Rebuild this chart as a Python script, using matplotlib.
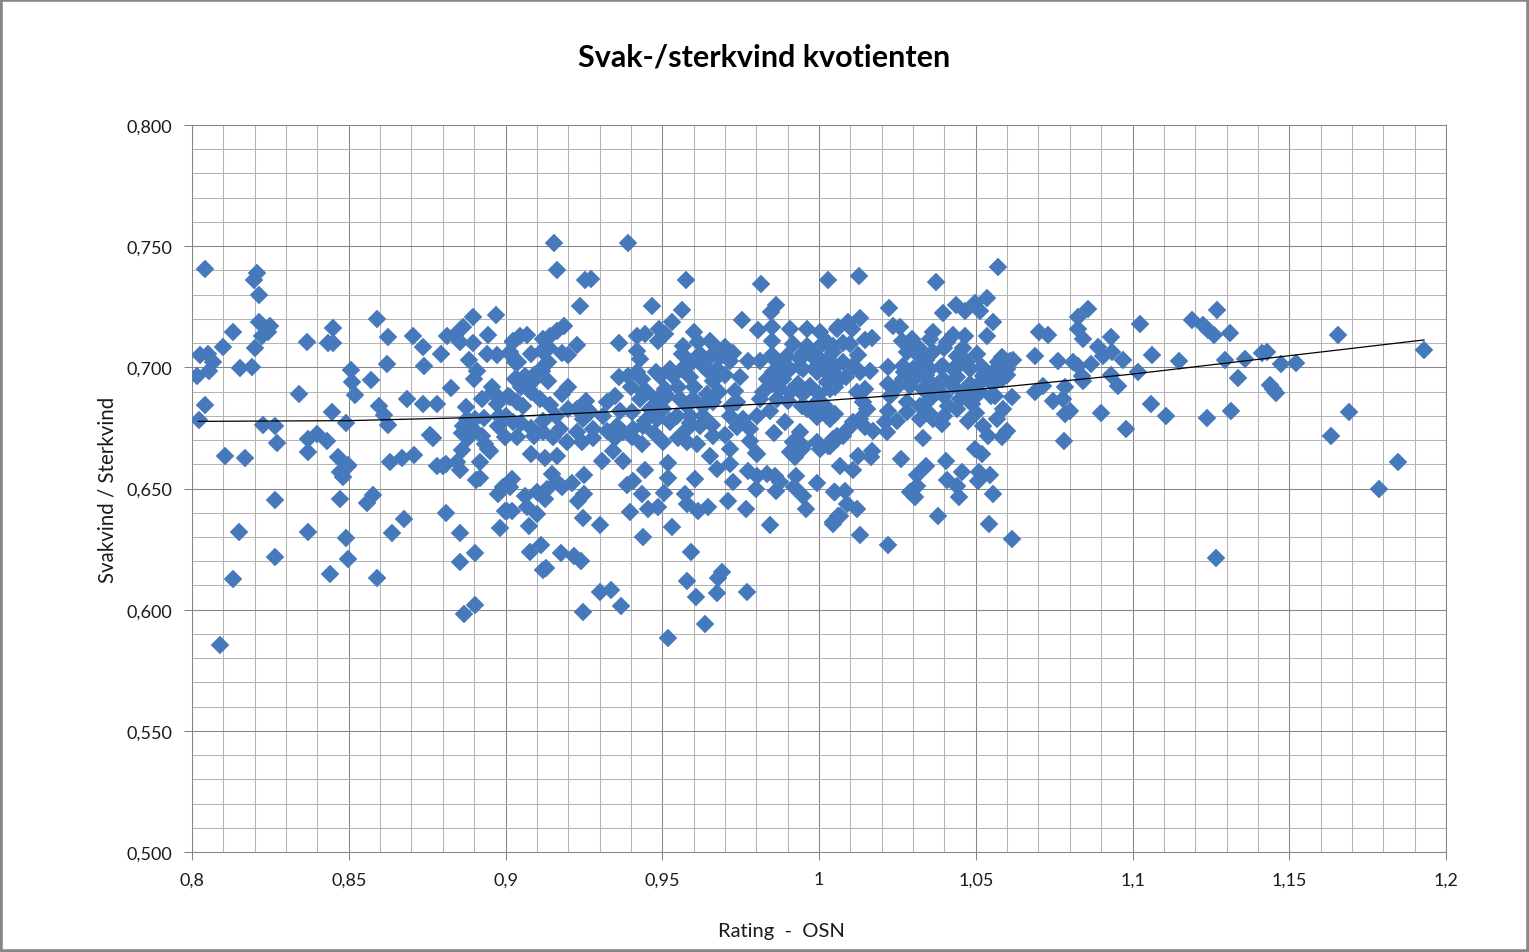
import matplotlib
matplotlib.use("Agg")
import matplotlib.pyplot as plt
from matplotlib.ticker import FixedLocator, FuncFormatter
from matplotlib.patches import Rectangle
import numpy as np

plt.rcParams['font.family'] = ['Lato', 'DejaVu Sans']

title = "Svak-/sterkvind kvotienten"
x_label = "Rating  -  OSN"
y_label = "Svakvind / Sterkvind"
x_ticks = [0.8, 0.85, 0.9, 0.95, 1.0, 1.05, 1.1, 1.15, 1.2]
y_ticks = [0.5, 0.55, 0.6, 0.65, 0.7, 0.75, 0.8]

# (rating, ratio), one list per part of the cloud
left_upper = [(.804,.7406),(.8207,.739),(.8198,.736),(.8214,.730),(.859,.720),(.8896,.7208),(.897,.7216),
    (.8214,.7187),(.825,.717),(.8243,.7146),(.813,.7146),(.845,.7162),(.8223,.713),(.8367,.7105),(.8434,.710),
    (.845,.710),(.8625,.7125),(.8705,.713),(.8737,.7084),(.81,.7084),(.82,.708),(.8026,.705),(.805,.7055),
    (.8067,.702),(.8054,.6985),(.8016,.6965),(.8153,.6997),(.819,.7001),(.8507,.699),(.851,.694),(.852,.6886),
    (.857,.6948),(.8622,.7013),(.874,.7005),(.8794,.7055),(.8826,.6915),(.834,.689),(.804,.6845),(.8597,.684),
    (.8612,.6803),(.8625,.6762),(.8686,.6868),(.8737,.6849),(.8782,.6849),(.8447,.6816),(.849,.677),(.8022,.6783),
    (.8226,.6762),(.8265,.6758),(.8271,.6688),(.837,.6704),(.840,.6725),(.843,.6696),(.8769,.6708),(.886,.673),
    (.8896,.6745),(.8925,.6717),(.8935,.6684),(.8813,.713),(.8839,.7133),(.8864,.7166),(.8855,.7105),(.8896,.71),
    (.8944,.7133),(.8884,.703),(.894,.7055),(.8973,.7051),(.9014,.7055),(.8909,.6985),(.89,.695),(.9024,.7105),
    (.903,.702),(.903,.695),(.8957,.692),(.8925,.687),(.896,.69),(.8982,.687),(.9008,.688),(.8973,.685),
    (.9037,.6857),(.8874,.6836),(.8877,.6787),(.8903,.6787),(.8864,.6758),(.8976,.6758),(.8998,.6713),
    (.9024,.6774),(.9037,.6713)]

left_lower = [(.837,.665),(.8466,.663),(.8498,.6597),(.8105,.6634),(.817,.6626),(.8632,.661),(.867,.6626),(.8708,.6638),
    (.8944,.6663),(.8498,.6593),(.8472,.6568),(.8482,.6547),(.8782,.6593),(.8801,.6593),(.8845,.661),(.8855,.6576),
    (.8906,.6535),(.8919,.6543),(.895,.6655),(.8265,.6452),(.8472,.6457),(.8577,.6473),(.8558,.644),(.8976,.6477),
    (.902,.6539),(.8992,.6506),(.9014,.6506),(.881,.6399),(.8998,.6407),(.902,.6407),(.8676,.6374),(.815,.632),
    (.837,.632),(.8491,.6296),(.8638,.6316),(.8855,.6316),(.8982,.6337),(.8265,.6217),(.8498,.6209),(.8903,.6234),
    (.8855,.6197),(.813,.6127),(.844,.6147),(.859,.6131),(.8903,.6019),(.8868,.5982),(.8089,.5854)]

centre_lower = [(.9081,.6642),(.9126,.6626),(.9164,.6634),(.9308,.6613),(.9343,.6655),(.9375,.6613),(.9148,.656),(.925,.6556),
    (.9164,.6527),(.9212,.6523),(.918,.6506),(.9132,.6498),(.91,.6485),(.9062,.6469),(.9126,.6457),(.925,.6477),
    (.9231,.6448),(.9069,.6424),(.9005,.6407),(.91,.6395),(.9075,.6345),(.9247,.6378),(.9302,.635),(.9113,.6267),
    (.9078,.6238),(.9177,.6234),(.9219,.6222),(.9241,.6201),(.912,.6164),(.9128,.6172),(.9302,.6073),(.9337,.6081),
    (.9368,.6015),(.9247,.599),(.9518,.5883),(.9636,.5941),(.969,.6155),(.9678,.613),(.9675,.6069),(.977,.6073),
    (.958,.6118),(.9608,.6052),(.9592,.6238),(.9439,.63),(.9531,.6341),(.9844,.635),(.9397,.6403),(.9455,.6415),
    (.9486,.6424),(.9614,.6407),(.9646,.6424),(.9579,.6436),(.9573,.6477),(.971,.6448),(.9767,.6415),(.9959,.6415),
    (1.0045,.6362),(1.006,.6387),(.9799,.6498),(.9863,.649),(.992,.6506),(.9949,.647),(.9994,.6523),(1.0048,.6486),
    (.9388,.6514),(.9407,.6531),(.9435,.6477),(.9506,.6481),(.9518,.6543),(.9604,.6539),(.9518,.6605),(.9445,.6576),
    (.9726,.6527),(.9774,.6572),(.9802,.6552),(.9834,.656),(.986,.6552),(.9876,.6527),(.9927,.6552),(.9675,.658),
    (.9652,.6634),(.9716,.6663),(.9716,.6601),(.9799,.6647),(.9923,.663),(.9946,.6663),(1.0003,.6663)]

right_lower = [(1.0067,.6593),(1.0108,.6576),(1.0124,.6634),(1.0166,.663),(1.0169,.6655),(1.0262,.6622),(1.0405,.6613),
    (1.0341,.6593),(1.0313,.6556),(1.0313,.651),(1.029,.6486),(1.0306,.6465),(1.0408,.6535),(1.044,.651),(1.0447,.6465),
    (1.0456,.6568),(1.051,.6568),(1.0545,.6556),(1.0507,.6531),(1.0555,.6477),(1.0498,.6663),(1.052,.6642),(1.0379,.6387),
    (1.0542,.6353),(1.0616,.6292),(1.022,.6267),(1.0131,.6309),(1.0121,.6415),(1.0089,.6436),(1.0083,.649),(1.0051,.6486),
    (1.0067,.6387),(1.0045,.6353),(1.1266,.6213)]

right_upper = [(1.0571,.7414),(1.0029,.736),(1.0128,.7377),(1.0373,.7352),(1.0223,.7245),(1.0396,.7224),(1.0437,.7257),
    (1.0466,.7232),(1.0498,.7265),(1.0536,.7286),(1.0514,.7232),(1.0555,.7187),(1.0536,.7129),(1.0131,.7204),(1.0092,.7187),
    (1.0061,.7166),(1.0105,.7158),(1.0147,.7113),(1.0169,.7121),(1.0099,.7096),(1.0236,.717),(1.0258,.7166),(1.0265,.7109),
    (1.0297,.7117),(1.0364,.7146),(1.0354,.7117),(1.0427,.7133),(1.0466,.7129),(1.0408,.7105),(1.0858,.7241),(1.0826,.7208),
    (1.0826,.7158),(1.0842,.7117),(1.0931,.7125),(1.1024,.7179),(1.0702,.7146),(1.073,.7133),(1.089,.7084),(1.0689,.7047),
    (1.1062,.7051),(1.0935,.7063),(1.0906,.7047),(1.097,.703),(1.0762,.7026),(1.081,.7022),(1.0826,.7005),(1.0868,.7014),
    (1.0839,.6964),(1.0931,.6968),(1.0842,.6944),(1.1018,.698),(1.0954,.6923),(1.0715,.6923),(1.0689,.6898),(1.0785,.6919),
    (1.0746,.6861),(1.0778,.6869),(1.0801,.682),(1.0785,.6807),(1.09,.6811),(1.1059,.6849),(1.098,.6746),(1.0781,.6696)]

far_right = [(1.1107,.6799),(1.1148,.7026),(1.1189,.7195),(1.1225,.7175),(1.1241,.7155),(1.126,.7133),(1.127,.7237),(1.1238,.6791),
    (1.1314,.682),(1.1311,.7142),(1.1295,.703),(1.1336,.6956),(1.1359,.7034),(1.1413,.7059),(1.143,.7063),(1.1439,.6927),
    (1.1448,.691),(1.1458,.6894),(1.1474,.7014),(1.1522,.7018),(1.1656,.7133),(1.1633,.6717),(1.1691,.6816),(1.1786,.6498),
    (1.1847,.6609),(1.193,.7072)]

centre_top = [(.9155,.7513),(.9391,.7513),(.9164,.7402),(.9254,.736),(.9273,.7364),(.9576,.736),(.9815,.7344),(.9238,.7253),
    (.9467,.7253),(.9563,.7237),(.9863,.7257),(.9847,.7228),(.9754,.7195),(.9805,.7154),(.985,.7166),(.985,.7109),
    (.9187,.717),(.9164,.715),(.9142,.7129),(.912,.7117),(.9069,.7133),(.9046,.7129),(.9024,.7109),(.9014,.7063),
    (.9081,.7055),(.9116,.7067),(.918,.7059),(.9228,.7092),(.904,.7022),(.9136,.7022),(.9116,.6985),(.9062,.6964),
    (.9037,.6952),(.9088,.6944),(.9136,.6944),(.9072,.6911),(.92,.6919),(.918,.689),(.9014,.6878),(.9056,.684),
    (.9142,.6845),(.9257,.6861),(.9228,.6828),(.9269,.6816),(.9324,.6857),(.9349,.6882),(.9362,.71),(.9362,.696),
    (.9419,.7129),(.9445,.7138),(.9419,.7067),(.9429,.7034),(.9419,.698),(.939,.6964),(.9435,.6952),(.949,.7158),
    (.9531,.7187),(.9509,.7138),(.9486,.7109),(.9601,.7146),(.9614,.7105),(.9566,.7088),(.9652,.7109),(.97,.7084),
    (.9563,.7055),(.962,.7055),(.9652,.7043),(.9684,.7043),(.9716,.7026),(.9595,.7022),(.963,.7005),(.9675,.6993),
    (.9563,.6993),(.9525,.6993),(.9493,.6964),(.9534,.6964),(.9589,.696),(.9662,.6944),(.9774,.7026),(.9812,.7026),
    (.9748,.696),(.9732,.6902),(.9739,.6857),(.9643,.689),(.9662,.6857),(.9598,.687),(.9557,.687),(.9515,.6882),
    (.9483,.687),(.9439,.6898),(.9429,.687),(.9404,.6816),(.9461,.6828),(.9502,.6828),(.9547,.68),(.9589,.68),(.963,.68)]

centre_mid = [(.9247,.6787),(.9279,.6745),(.9324,.6737),(.9356,.6758),(.9375,.6733),(.9407,.6745),(.9439,.6758),(.9483,.6787),
    (.9525,.6774),(.9579,.6745),(.962,.6758),(.9662,.6717),(.9502,.6692),(.9435,.6684),(.9404,.6713),(.9579,.6692),
    (.9611,.6684),(.9228,.6733),(.9244,.6692),(.9174,.6745),(.9196,.6692),(.912,.6733),(.9091,.6717),(.9151,.6713),
    (.9739,.6754),(.978,.6696),(.9802,.6642),(.978,.6745),(.9716,.68),(.9758,.6787),(.9802,.68),(.9856,.673),(.9892,.6774),
    (.9844,.682),(.9962,.6828),(.9994,.6795),(1.0026,.68),(.9939,.6733),(.9917,.6692),(.9994,.6692),(1.0045,.6704),
    (.9907,.665),(.9949,.6675),(1.0029,.6675),(1.0058,.6717)]

middle_dense = [(.9907,.7158),(.9962,.7158),(1.0003,.7146),(1.0058,.7158),(.9917,.7096),(.9962,.7088),(1.0003,.7088),(1.0045,.7088),
    (.9898,.7047),(.9939,.7034),(.9981,.7043),(1.0029,.7034),(.9866,.7022),(.9907,.6993),(.9949,.6993),(.9994,.698),
    (1.0035,.6993),(.9853,.698),(.9834,.6952),(.9885,.6952),(.9933,.6931),(.9971,.6923),(1.0026,.694),(.9876,.6911),
    (.9907,.6898),(.9821,.6898),(.9812,.687),(.9866,.687),(.9946,.684),(.9981,.684),(1.0019,.684),(1.0026,.7105),
    (1.0045,.7063),(1.0077,.7022),(1.0108,.7005),(1.0163,.6985),(1.0131,.698),(1.022,.7001),(1.0035,.6964),(1.0067,.6952),
    (1.022,.6931),(1.0281,.7063),(1.0313,.7055),(1.0364,.7063),(1.0332,.7022),(1.0268,.7005),(1.03,.6993),(1.0354,.6993),
    (1.0396,.7005),(1.044,.7047),(1.0504,.7055),(1.0472,.7022),(1.0427,.6993),(1.0482,.6993),(1.0313,.6964),(1.0268,.6952),
    (1.0345,.6952),(1.0396,.6952),(1.044,.696),(1.029,.6923),(1.0332,.6911),(1.0376,.6923),(1.0427,.6923),(1.0482,.6931),
    (1.0523,.6964),(1.0584,.7043),(1.0609,.7026),(1.0571,.7022),(1.06,.6993),(1.0555,.698),(1.0587,.6973),(1.0536,.6952),
    (1.0584,.6952),(1.0504,.6923),(1.0555,.6931),(1.0514,.6898),(1.028,.6857),(1.0322,.684),(1.0354,.687),(1.028,.6816),
    (1.0322,.6787),(1.0364,.6787),(1.0392,.6766),(1.0411,.684),(1.045,.687),(1.0488,.6849),(1.044,.6828),(1.0475,.6779),
    (1.0568,.6787),(1.0587,.6828),(1.0616,.6878),(1.0561,.6882),(1.0523,.6758),(1.0539,.6717),(1.0584,.6713),(1.06,.6737),
    (1.0332,.6708),(1.022,.682),(1.0211,.6774),(1.0217,.6733),(1.0172,.6737),(1.0147,.6754),(1.0153,.6828),(1.0131,.6787),
    (1.0108,.6774),(1.0092,.6745),(1.0077,.6717),(1.0058,.6704),(1.0035,.6675),(1.0019,.682),(1.0051,.6807),(1.0035,.6787),
    (1.0121,.6898),(1.0147,.6911),(1.0035,.6911),(1.014,.6857)]

# blobs where the diamonds overlap into solid blue
solid_blobs = [(.955,.692),(.96,.692),(.965,.698),(.97,.697),(.958,.684),(.963,.684),(.968,.69),(.972,.684),
    (.9475,.681),(.9525,.678),(.9445,.678),(.9365,.682),(.931,.68),(.926,.683),(.935,.671),(.928,.671),(.9475,.673),
    (.955,.671),(.959,.677),(.966,.676),(.97,.672),(.945,.69),(.951,.691),(.94,.692),(.948,.698),(.96,.703),
    (.968,.707),(.9725,.706),(.995,.706),(.999,.7),(.994,.7),(.989,.7),(.985,.693),(.99,.686),(.995,.689),(1.0,.689),
    (1.005,.692),(1.0085,.696),(1.002,.699),(1.0075,.71),(1.0125,.705),(1.0,.704),(1.005,.70),(.985,.705),
    (1.034,.697),(1.039,.7),(1.034,.703),(1.03,.698),(1.025,.692),(1.036,.69),(1.04,.688),(1.046,.69),(1.044,.7),
    (1.04,.708),(1.046,.708),(1.052,.70),(1.049,.687),(1.055,.688),(1.05,.681),(1.062,.703),(1.056,.695),(1.06,.697),
    (1.032,.708),(1.027,.698),(1.0225,.688),(1.035,.681),(1.025,.678),(1.04,.68),(.908,.69),(.911,.687),(.905,.692),
    (.909,.697),(.912,.70),(.914,.708),(.92,.705),(.916,.68),(.92,.683),(.912,.678),(.908,.675),(.905,.677),
    (.876,.672),(.881,.66),(.888,.671),(.893,.679),(.898,.68),(.9,.68),(.892,.661),(.886,.666)]

trend_x = [.802, .85, .9, .95, 1.0, 1.05, 1.1, 1.15, 1.193]
trend_y = [.6777, .678, .6796, .6827, .6861, .6908, .6972, .7048, .7113]

groups = [left_upper, left_lower, centre_lower, right_lower, right_upper, far_right, centre_top, centre_mid,
          middle_dense, solid_blobs]
points = np.array([p for g in groups for p in g])

fig = plt.figure(figsize=(15.29, 9.53), dpi=100, facecolor='white')
ax = fig.add_axes([192 / 1529, 1 - 853 / 953, (1446 - 192) / 1529, (853 - 126) / 953])
ax.set_xlim(0.8, 1.2)
ax.set_ylim(0.5, 0.8)

ax.xaxis.set_major_locator(FixedLocator(x_ticks))
ax.yaxis.set_major_locator(FixedLocator(y_ticks))
ax.xaxis.set_minor_locator(FixedLocator(np.arange(0.8, 1.2001, 0.01)))
ax.yaxis.set_minor_locator(FixedLocator(np.arange(0.5, 0.8001, 0.01)))
ax.grid(which='minor', color='#b4b4b4', linewidth=0.75)
ax.grid(which='major', color='#868686', linewidth=0.75)
ax.set_axisbelow(True)

ax.xaxis.set_major_formatter(FuncFormatter(lambda v, p: f"{v:.2f}".rstrip('0').rstrip('.').replace('.', ',')))
ax.yaxis.set_major_formatter(FuncFormatter(lambda v, p: f"{v:.3f}".replace('.', ',')))
ax.tick_params(which='minor', length=0)
ax.tick_params(which='major', length=6, width=0.75, color='#868686', labelsize=13, labelcolor='#1a1a1a', pad=8)
for s in ax.spines.values():
    s.set_color('#868686')
    s.set_linewidth(0.75)

ax.plot(points[:, 0], points[:, 1], linestyle='none', marker='D', markersize=9.4,
        markerfacecolor='#4679BB', markeredgecolor='#4679BB', markeredgewidth=0.3, zorder=3)
ax.plot(trend_x, trend_y, color='black', linewidth=0.9, zorder=4)

fig.text(764 / 1529, 1 - 58 / 953, title, ha='center', va='center', fontsize=22, fontweight='bold', color='black')
fig.text(781 / 1529, 1 - 932 / 953, x_label, ha='center', va='center', fontsize=14.5, color='#1a1a1a')
fig.text(108 / 1529, 1 - 490 / 953, y_label, ha='center', va='center', fontsize=14.8, rotation=90, color='#1a1a1a')

# grey frame of the chart object
fig.add_artist(Rectangle((0, 0), 1, 1, transform=fig.transFigure, fill=False, edgecolor='#868686', linewidth=4))

fig.savefig('out.png', dpi=100)
